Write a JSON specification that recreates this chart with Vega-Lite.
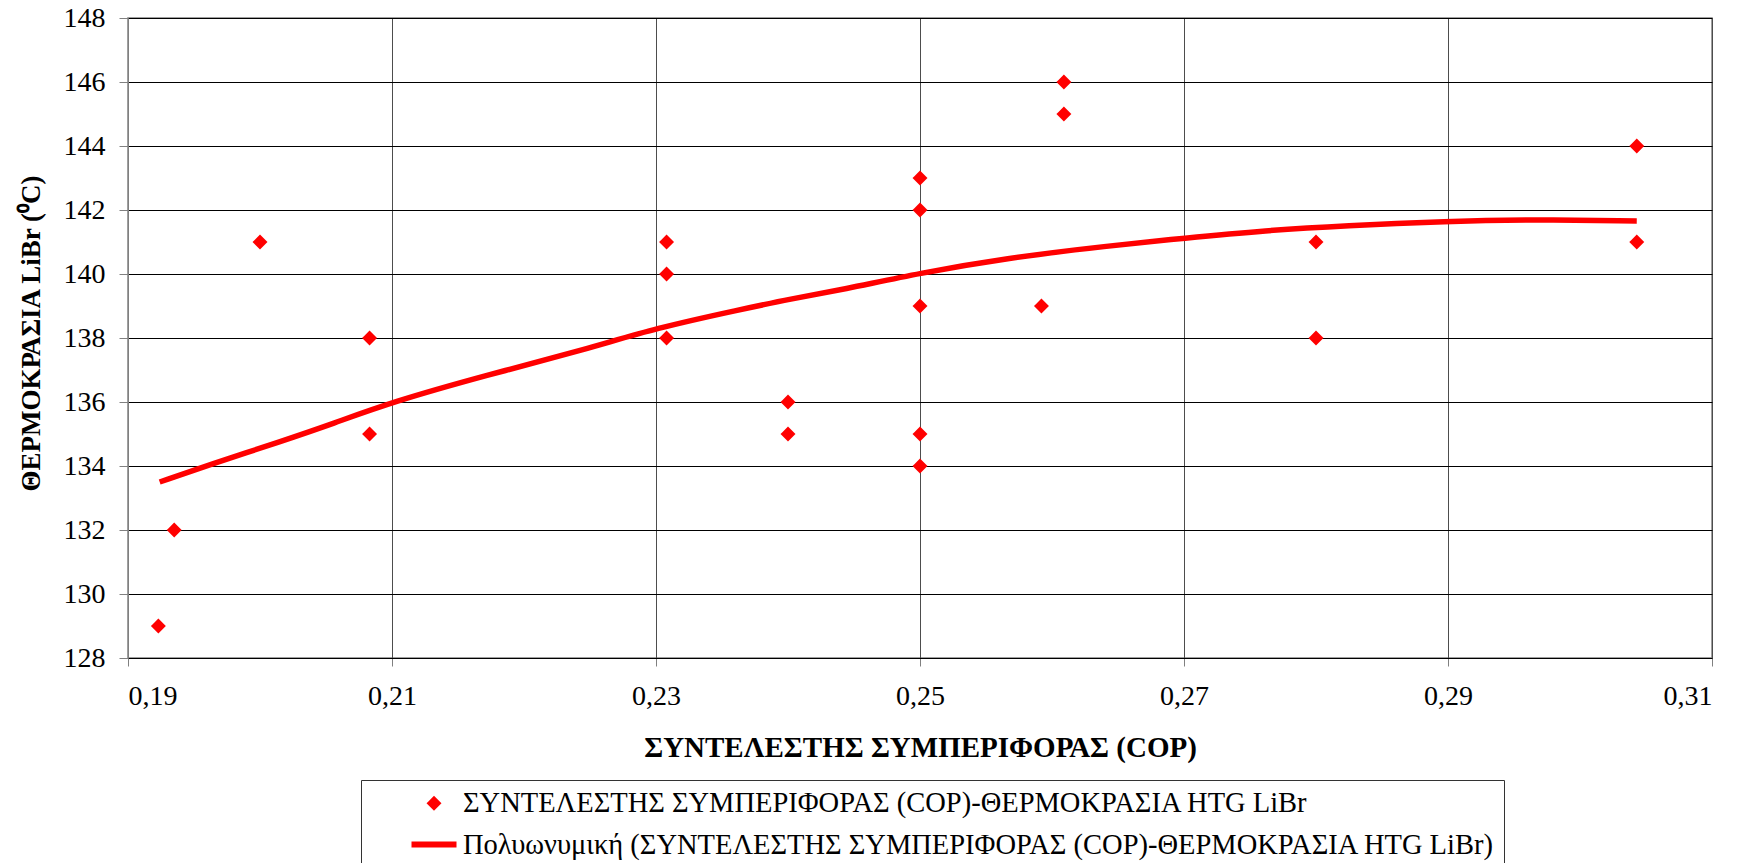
{
  "$schema": "https://vega.github.io/schema/vega-lite/v6.json",
  "width": 1584,
  "height": 640,
  "autosize": {"type": "none"},
  "padding": {"left": 128, "top": 18, "right": 37, "bottom": 205},
  "background": "white",
  "config": {
    "locale": {"number": {"decimal": ",", "thousands": ".", "grouping": [3], "currency": ["", " €"]}},
    "view": {"stroke": "#808080", "strokeWidth": 1.5},
    "font": "Liberation Serif"
  },
  "datasets": {
    "points": [
      {"cop": 0.1923, "temp": 129},
      {"cop": 0.1935, "temp": 132},
      {"cop": 0.2, "temp": 141},
      {"cop": 0.2083, "temp": 138},
      {"cop": 0.2083, "temp": 135},
      {"cop": 0.2308, "temp": 141},
      {"cop": 0.2308, "temp": 140},
      {"cop": 0.2308, "temp": 138},
      {"cop": 0.24, "temp": 136},
      {"cop": 0.24, "temp": 135},
      {"cop": 0.25, "temp": 143},
      {"cop": 0.25, "temp": 142},
      {"cop": 0.25, "temp": 139},
      {"cop": 0.25, "temp": 135},
      {"cop": 0.25, "temp": 134},
      {"cop": 0.2592, "temp": 139},
      {"cop": 0.2609, "temp": 146},
      {"cop": 0.2609, "temp": 145},
      {"cop": 0.28, "temp": 141},
      {"cop": 0.28, "temp": 138},
      {"cop": 0.3043, "temp": 144},
      {"cop": 0.3043, "temp": 141}
    ],
    "trend": [
      {"cop": 0.1924, "temp": 133.5},
      {"cop": 0.1962, "temp": 134.04},
      {"cop": 0.2016, "temp": 134.77},
      {"cop": 0.2055, "temp": 135.32},
      {"cop": 0.21, "temp": 136.0},
      {"cop": 0.2171, "temp": 136.83},
      {"cop": 0.2248, "temp": 137.66},
      {"cop": 0.23, "temp": 138.31},
      {"cop": 0.2364, "temp": 138.89},
      {"cop": 0.2402, "temp": 139.22},
      {"cop": 0.2441, "temp": 139.51},
      {"cop": 0.25, "temp": 140.03},
      {"cop": 0.2564, "temp": 140.49},
      {"cop": 0.2643, "temp": 140.88},
      {"cop": 0.27, "temp": 141.12},
      {"cop": 0.2762, "temp": 141.36},
      {"cop": 0.2822, "temp": 141.51},
      {"cop": 0.29, "temp": 141.65},
      {"cop": 0.296, "temp": 141.7},
      {"cop": 0.3043, "temp": 141.66}
    ]
  },
  "layer": [
    {
      "data": {"name": "points"},
      "mark": {"type": "point", "filled": true, "opacity": 1, "stroke": "#ff0000", "strokeWidth": 6},
      "encoding": {
        "x": {
          "field": "cop",
          "type": "quantitative",
          "scale": {"domain": [0.19, 0.31], "nice": false, "zero": false},
          "axis": {
            "values": [0.19, 0.21, 0.23, 0.25, 0.27, 0.29, 0.31],
            "format": ".2f",
            "labelFont": "Liberation Serif",
            "labelFontSize": 28,
            "labelColor": "#000",
            "labelPadding": 16,
            "tickSize": 8,
            "tickColor": "#808080",
            "domainColor": "#000",
            "gridColor": "#4d4d4d",
            "gridWidth": 1,
            "title": "ΣΥΝΤΕΛΕΣΤΗΣ ΣΥΜΠΕΡΙΦΟΡΑΣ (COP)",
            "titleFont": "Liberation Serif",
            "titleFontSize": 29,
            "titleFontWeight": "bold",
            "titleColor": "#000",
            "titleX": 792,
            "titleY": 89,
            "titleAlign": "center",
            "titleBaseline": "middle"
          }
        },
        "y": {
          "field": "temp",
          "type": "quantitative",
          "scale": {"domain": [128, 148], "nice": false, "zero": false},
          "axis": {
            "values": [128, 130, 132, 134, 136, 138, 140, 142, 144, 146, 148],
            "format": "d",
            "labelFont": "Liberation Serif",
            "labelFontSize": 28,
            "labelColor": "#000",
            "labelPadding": 14,
            "tickSize": 9,
            "tickColor": "#808080",
            "domainColor": "#808080",
            "gridColor": "#000",
            "gridWidth": 1,
            "title": "ΘΕΡΜΟΚΡΑΣΙΑ LiBr (⁰C)",
            "titleFont": "Liberation Serif",
            "titleFontSize": 27,
            "titleFontWeight": "bold",
            "titleColor": "#000",
            "titleX": -97,
            "titleY": 315,
            "titleAngle": -90,
            "titleAlign": "center",
            "titleBaseline": "middle"
          }
        },
        "color": {
          "datum": "ΣΥΝΤΕΛΕΣΤΗΣ ΣΥΜΠΕΡΙΦΟΡΑΣ (COP)-ΘΕΡΜΟΚΡΑΣΙΑ HTG LiBr",
          "type": "nominal",
          "scale": {
            "domain": ["ΣΥΝΤΕΛΕΣΤΗΣ ΣΥΜΠΕΡΙΦΟΡΑΣ (COP)-ΘΕΡΜΟΚΡΑΣΙΑ HTG LiBr", "Πολυωνυμική (ΣΥΝΤΕΛΕΣΤΗΣ ΣΥΜΠΕΡΙΦΟΡΑΣ (COP)-ΘΕΡΜΟΚΡΑΣΙΑ HTG LiBr)"],
            "range": ["#ff0000", "#ff0000"]
          },
          "legend": {
            "orient": "none",
            "legendX": 233,
            "legendY": 762,
            "title": null,
            "direction": "vertical",
            "strokeColor": "#333",
            "fillColor": "white",
            "padding": 9,
            "symbolOffset": 38.5,
            "labelOffset": 3.5,
            "labelFont": "Liberation Serif",
            "labelFontSize": 28.5,
            "labelColor": "#000",
            "labelLimit": 2000,
            "rowPadding": 0,
            "symbolStrokeWidth": 6,
            "symbolStrokeColor": "#ff0000",
            "symbolOpacity": 1
          }
        },
        "shape": {
          "datum": "ΣΥΝΤΕΛΕΣΤΗΣ ΣΥΜΠΕΡΙΦΟΡΑΣ (COP)-ΘΕΡΜΟΚΡΑΣΙΑ HTG LiBr",
          "type": "nominal",
          "scale": {
            "domain": ["ΣΥΝΤΕΛΕΣΤΗΣ ΣΥΜΠΕΡΙΦΟΡΑΣ (COP)-ΘΕΡΜΟΚΡΑΣΙΑ HTG LiBr", "Πολυωνυμική (ΣΥΝΤΕΛΕΣΤΗΣ ΣΥΜΠΕΡΙΦΟΡΑΣ (COP)-ΘΕΡΜΟΚΡΑΣΙΑ HTG LiBr)"],
            "range": ["diamond", "stroke"]
          }
        },
        "size": {
          "datum": "ΣΥΝΤΕΛΕΣΤΗΣ ΣΥΜΠΕΡΙΦΟΡΑΣ (COP)-ΘΕΡΜΟΚΡΑΣΙΑ HTG LiBr",
          "type": "nominal",
          "scale": {
            "domain": ["ΣΥΝΤΕΛΕΣΤΗΣ ΣΥΜΠΕΡΙΦΟΡΑΣ (COP)-ΘΕΡΜΟΚΡΑΣΙΑ HTG LiBr", "Πολυωνυμική (ΣΥΝΤΕΛΕΣΤΗΣ ΣΥΜΠΕΡΙΦΟΡΑΣ (COP)-ΘΕΡΜΟΚΡΑΣΙΑ HTG LiBr)"],
            "range": [42, 2025]
          }
        }
      }
    },
    {
      "data": {"name": "trend"},
      "mark": {"type": "line", "strokeWidth": 5.5, "interpolate": "basis"},
      "encoding": {
        "x": {"field": "cop", "type": "quantitative"},
        "y": {"field": "temp", "type": "quantitative"},
        "color": {"datum": "Πολυωνυμική (ΣΥΝΤΕΛΕΣΤΗΣ ΣΥΜΠΕΡΙΦΟΡΑΣ (COP)-ΘΕΡΜΟΚΡΑΣΙΑ HTG LiBr)", "type": "nominal"}
      }
    }
  ]
}
